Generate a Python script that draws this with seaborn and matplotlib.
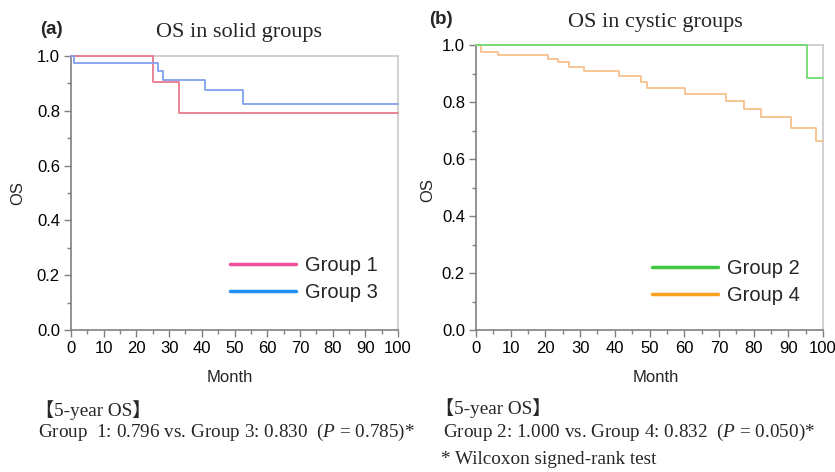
import numpy as np
import pandas as pd
import matplotlib
matplotlib.use("Agg")
import matplotlib.pyplot as plt
from matplotlib.lines import Line2D
from matplotlib.ticker import MultipleLocator
import seaborn as sns

# Kaplan-Meier steps (month, survival)
g1_month = [0, 25, 33, 100]
g1_os = [1.0, 0.905, 0.791, 0.791]
g3_month = [0, 1, 26.7, 28, 41, 52.7, 100]
g3_os = [1.0, 0.973, 0.945, 0.912, 0.876, 0.826, 0.826]
g2_month = [0, 95.5, 100]
g2_os = [1.0, 0.885, 0.885]
g4_month = [0, 1.4, 6.4, 20.8, 23.5, 26.8, 31.1, 41.3, 47.5, 49.2, 60.2, 72, 77.3, 82, 90.7, 97.9, 100]
g4_os = [1.0, 0.977, 0.965, 0.951, 0.940, 0.924, 0.909, 0.890, 0.871, 0.850, 0.828, 0.805, 0.775, 0.746, 0.708, 0.662, 0.662]

x_ticks = list(range(0, 101, 10))
y_ticks = [0.0, 0.2, 0.4, 0.6, 0.8, 1.0]

sns.set_style("white")
plt.rcParams['font.family'] = ['Liberation Sans', 'DejaVu Sans']
plt.rcParams['mathtext.fontset'] = 'custom'
plt.rcParams['mathtext.it'] = 'Liberation Serif:italic'
plt.rcParams['mathtext.rm'] = 'Liberation Serif'

W, H = 835, 472
fig = plt.figure(figsize=(W / 100, H / 100), dpi=100)


def px_axes(x0, y0, x1, y1):
    return fig.add_axes([x0 / W, 1 - y1 / H, (x1 - x0) / W, (y1 - y0) / H])


def style_ax(ax):
    ax.set_xlim(0, 100)
    ax.set_ylim(0, 1.0)
    ax.set_xticks(x_ticks)
    ax.set_yticks(y_ticks)
    ax.set_yticklabels([f"{v:.1f}" for v in y_ticks])
    ax.xaxis.set_minor_locator(MultipleLocator(5))
    ax.yaxis.set_minor_locator(MultipleLocator(0.1))
    ax.tick_params(which='major', direction='out', length=5, width=1, color='#808080',
                   labelsize=12, labelcolor='black', pad=3, bottom=True, left=True)
    ax.tick_params(which='minor', direction='out', length=3, width=1, color='#808080',
                   bottom=True, left=True)
    for s in ['left', 'bottom']:
        ax.spines[s].set_color('#808080')
        ax.spines[s].set_linewidth(1.2)
        ax.spines[s].set_zorder(0.5)
    for s in ['top', 'right']:
        ax.spines[s].set_color('#c8c8c8')
        ax.spines[s].set_linewidth(1.2)
        ax.spines[s].set_zorder(0.5)
    ax.set_xlabel("")
    ax.set_ylabel("")


ax1 = px_axes(71, 56, 398, 330)
ax2 = px_axes(476, 45, 823, 330)

curves1 = [(g1_month, g1_os, '#e87a8e'), (g3_month, g3_os, '#80a0f0')]
curves2 = [(g4_month, g4_os, '#f8c08c'), (g2_month, g2_os, '#70dc70')]
for ax, curves in [(ax1, curves1), (ax2, curves2)]:
    for mx, sv, c in curves:
        df = pd.DataFrame({"Month": mx, "OS": sv})
        sns.lineplot(data=df, x="Month", y="OS", ax=ax, color=c, lw=1.3,
                     drawstyle='steps-post', estimator=None, sort=False,
                     clip_on=False, zorder=3)
    style_ax(ax)

leg_kw = dict(frameon=False, fontsize=14.5, handlelength=3.3, handletextpad=0.45,
              labelspacing=0.4, borderpad=0, borderaxespad=0, loc='center left')
h1 = [Line2D([], [], color='#f0509a', lw=2.5), Line2D([], [], color='#2090f0', lw=2.5)]
ax1.legend(h1, ["Group 1", "Group 3"], bbox_to_anchor=(0.486, 0.186), **leg_kw)
h2 = [Line2D([], [], color='#40c840', lw=2.5), Line2D([], [], color='#f8a020', lw=2.5)]
ax2.legend(h2, ["Group 2", "Group 4"], bbox_to_anchor=(0.507, 0.168), **leg_kw)


def ftext(x, y, s, **kw):
    fig.text(x / W, 1 - y / H, s, **kw)


serif = ['Liberation Serif', 'Noto Sans CJK JP']
ftext(51, 30, "(a)", fontsize=13.5, fontweight='bold', ha='center', va='center')
ftext(239, 32, "OS in solid groups", fontsize=16, family=serif, ha='center', va='center')
ftext(441, 19, "(b)", fontsize=13.5, fontweight='bold', ha='center', va='center')
ftext(655, 23, "OS in cystic groups", fontsize=16, family=serif, ha='center', va='center')

ftext(18, 193, "OS", fontsize=12, rotation=90, ha='center', va='center')
ftext(428, 190, "OS", fontsize=12, rotation=90, ha='center', va='center')
ftext(230, 378, "Month", fontsize=12, ha='center', va='center')
ftext(656, 377, "Month", fontsize=12, ha='center', va='center')

fs = 13.8
ftext(35, 410, "【5-year OS】", fontsize=fs, family=serif, ha='left', va='center')
ftext(38, 432, "Group  1: 0.796 vs. Group 3: 0.830  ($\\mathit{P}$ = 0.785)*", fontsize=fs,
      family=serif, ha='left', va='center')
ftext(435, 408, "【5-year OS】", fontsize=fs, family=serif, ha='left', va='center')
ftext(443, 432, "Group 2: 1.000 vs. Group 4: 0.832  ($\\mathit{P}$ = 0.050)*", fontsize=fs,
      family=serif, ha='left', va='center')
ftext(441, 460, "* Wilcoxon signed-rank test", fontsize=fs, family=serif, ha='left', va='center')

fig.savefig("out.png", dpi=100)
